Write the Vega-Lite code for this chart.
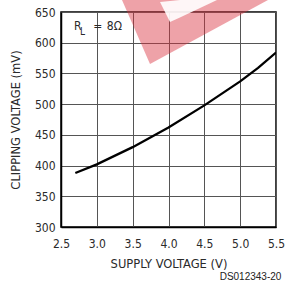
{
  "$schema": "https://vega.github.io/schema/vega-lite/v6.json",
  "width": 215,
  "height": 215,
  "autosize": {"type": "none"},
  "padding": {"left": 61, "top": 12, "right": 10, "bottom": 61},
  "background": "white",
  "config": {
    "view": {"stroke": "black", "strokeWidth": 1.5},
    "axis": {
      "labelFont": "DejaVu Sans Condensed",
      "labelFontSize": 12,
      "labelColor": "#2a2a2a",
      "labelOverlap": false,
      "labelBound": false,
      "labelFlush": false,
      "titleFont": "DejaVu Sans Condensed",
      "titleFontSize": 12.8,
      "titleFontWeight": "normal",
      "titleColor": "#2a2a2a",
      "gridColor": "#555",
      "gridOpacity": 1,
      "gridWidth": 1,
      "domainColor": "black",
      "domainWidth": 1.5,
      "ticks": false
    }
  },
  "datasets": {
    "curve": [
      {"v": 2.7, "mv": 388},
      {"v": 3.0, "mv": 402},
      {"v": 3.5, "mv": 430},
      {"v": 4.0, "mv": 462},
      {"v": 4.5, "mv": 498},
      {"v": 5.0, "mv": 537},
      {"v": 5.25, "mv": 559},
      {"v": 5.5, "mv": 584}
    ],
    "mark_red": [
      {"v": 3.351, "mv": 669.5, "mv2": 669.5},
      {"v": 3.742, "mv": 669.5, "mv2": 565.3},
      {"v": 5.388, "mv": 669.5, "mv2": 669.5}
    ],
    "mark_white": [
      {"v": 3.881, "mv": 666.4, "mv2": 666.4},
      {"v": 4.021, "mv": 668.1, "mv2": 633.7},
      {"v": 4.160, "mv": 669.5, "mv2": 641.2},
      {"v": 4.677, "mv": 669.5, "mv2": 669.5}
    ],
    "labels": [
      {"v": 2.68, "mv": 627, "t": "R", "k": "main"},
      {"v": 2.765, "mv": 617, "t": "L", "k": "sub"},
      {"v": 2.95, "mv": 627, "t": "=", "k": "main"},
      {"v": 3.14, "mv": 627, "t": "8Ω", "k": "main"}
    ],
    "code": [
      {"v": 5.575, "mv": 218, "t": "DS012343-20"}
    ]
  },
  "encoding": {
    "x": {
      "field": "v", "type": "quantitative",
      "scale": {"domain": [2.5, 5.5], "nice": false, "zero": false},
      "axis": {
        "values": [2.5, 3, 3.5, 4, 4.5, 5, 5.5],
        "format": ".1f",
        "title": "SUPPLY VOLTAGE (V)",
        "labelPadding": 11,
        "titlePadding": 8,
        "grid": true
      }
    },
    "y": {
      "field": "mv", "type": "quantitative",
      "scale": {"domain": [300, 650], "nice": false, "zero": false},
      "axis": {
        "values": [300, 350, 400, 450, 500, 550, 600, 650],
        "title": "CLIPPING VOLTAGE (mV)",
        "labelPadding": 6,
        "titlePadding": 12,
        "grid": true
      }
    }
  },
  "layer": [
    {
      "data": {"name": "curve"},
      "mark": {"type": "line", "color": "black", "strokeWidth": 2.3, "clip": true}
    },
    {
      "data": {"name": "mark_red"},
      "mark": {"type": "area", "color": "#d9303f", "opacity": 0.45, "clip": false},
      "encoding": {"y2": {"field": "mv2"}}
    },
    {
      "data": {"name": "mark_white"},
      "mark": {"type": "area", "color": "white", "opacity": 0.9, "clip": false},
      "encoding": {"y2": {"field": "mv2"}}
    },
    {
      "data": {"name": "labels"},
      "transform": [{"filter": "datum.k === 'main'"}],
      "mark": {"type": "text", "font": "DejaVu Sans Condensed", "fontSize": 12, "align": "left", "baseline": "middle", "color": "#2a2a2a"},
      "encoding": {"text": {"field": "t"}}
    },
    {
      "data": {"name": "labels"},
      "transform": [{"filter": "datum.k === 'sub'"}],
      "mark": {"type": "text", "font": "DejaVu Sans Condensed", "fontSize": 10, "align": "left", "baseline": "middle", "color": "#2a2a2a"},
      "encoding": {"text": {"field": "t"}}
    },
    {
      "data": {"name": "code"},
      "mark": {"type": "text", "font": "Liberation Sans", "fontSize": 10, "align": "right", "baseline": "middle", "color": "#222", "clip": false},
      "encoding": {"text": {"field": "t"}}
    }
  ]
}
